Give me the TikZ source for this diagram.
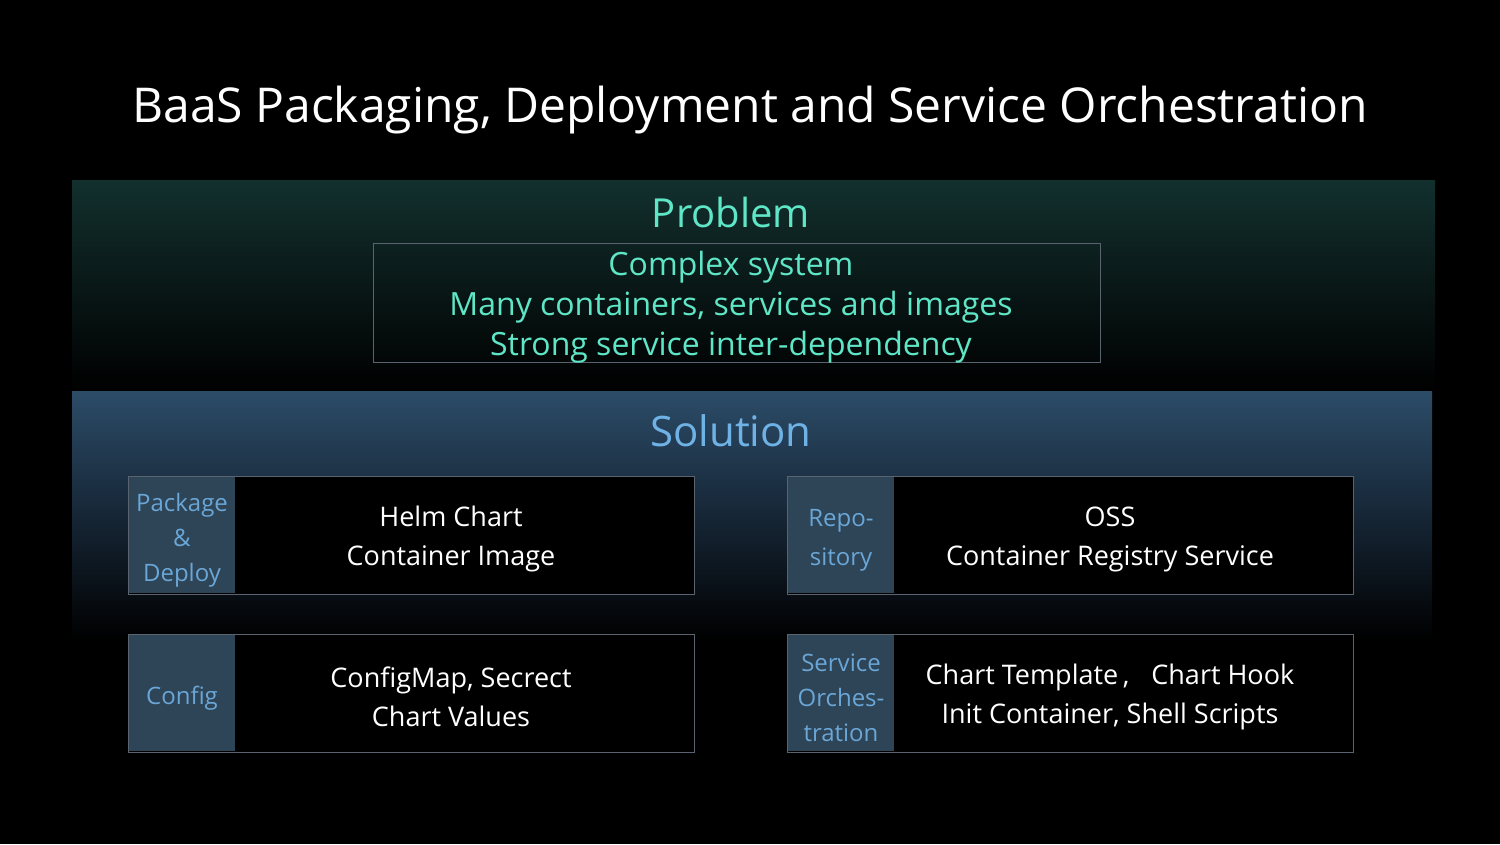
\documentclass[tikz,border=0pt]{standalone}
\usepackage{fontspec}
\setmainfont{Open Sans}
\definecolor{teal}{HTML}{5EE6C6}
\definecolor{sblue}{HTML}{6FB2E6}
\definecolor{lblue}{HTML}{6AA6D6}
\definecolor{lfill}{HTML}{2E4457}
\definecolor{bord}{HTML}{5A6470}
\tikzset{
 fs/.style={font=\fontsize{#1}{#1}\selectfont},
 outerbox/.style={draw=bord,line width=1.2pt,fill=black,minimum width=566pt,minimum height=118pt,anchor=north west,inner sep=0},
 lab/.style={fill=lfill,minimum width=106pt,minimum height=116pt,anchor=north west,inner sep=0},
 labtext/.style={text=lblue,align=center,fs=24},
 body/.style={text=white,align=center,fs=27},
}
\begin{document}
\begin{tikzpicture}[x=1pt,y=-1pt]
\fill[black] (0,0) rectangle (1500,844);
\useasboundingbox (0,0) rectangle (1500,844);
\node[text=white,fs=48] (title) at (750,110) {BaaS Packaging, Deployment and Service Orchestration};
\shade[top color={rgb,255:red,18;green,48;blue,46}, bottom color=black] (72,180) rectangle (1435,390);
\node[text=teal,fs=40] (prob) at (731,212) {Problem};
\node[draw=bord,line width=1pt,minimum width=727pt,minimum height=119pt] (pbox) at (736.5,302.5) {};
\node[text=teal,align=center,fs=32] (ptext) at (731,307) {Complex system\\[8pt]Many containers, services and images\\[8pt]Strong service inter-dependency};
\shade[top color={rgb,255:red,44;green,76;blue,104}, bottom color=black, middle color={rgb,255:red,22;green,38;blue,54}] (72,391) rectangle (1432,640);
\node[text=sblue,fs=42] (sol) at (731,431) {Solution};
\foreach \n/\x/\y/\l/\b in {a/128/476/{Package\\[11pt]\&\\[11pt]Deploy}/{Helm Chart\\[12pt]Container Image},
  b/787/476/{Repo-\\[15pt]sitory}/{OSS\\[12pt]Container Registry Service},
  c/128/634/{Config}/{ConfigMap, Secrect\\[12pt]Chart Values},
  d/787/634/{Service\\[11pt]Orches-\\[11pt]tration}/{Chart Template\,,\;\; Chart Hook\\[12pt]Init Container, Shell Scripts}}{
 \node[outerbox] (\n box) at (\x,\y) {};
 \node[lab] (\n lab) at (\x+0.6,\y+1) {};
 \node[labtext] (\n labt) at (\x+54,\y+64) {\l};
 \node[body] (\n body) at (\x+323,\y+63) {\b};
}
\end{tikzpicture}
\end{document}
